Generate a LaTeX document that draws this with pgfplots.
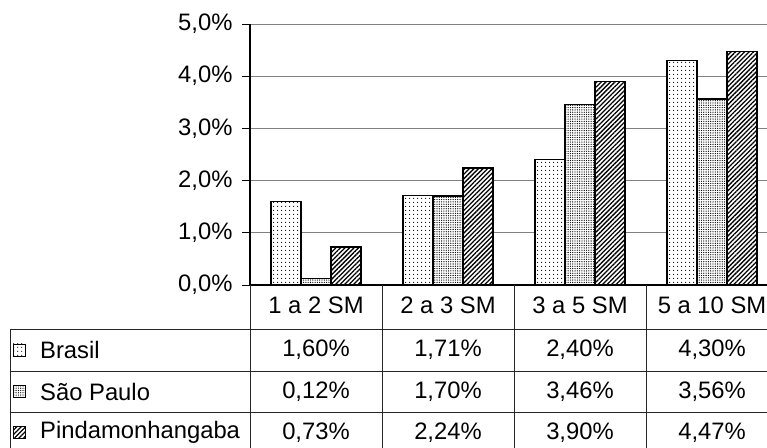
\documentclass[border=0pt]{standalone}
\usepackage{fontspec}
\setmainfont{Liberation Sans}
\usepackage{pgfplots}
\pgfplotsset{compat=1.18}
\usetikzlibrary{patterns.meta}

% fill styles of the three series
\tikzset{
  brasil/.style={preaction={fill=white}, pattern={Dots[distance=3.6bp, radius=0.65bp]}},
  saopaulo/.style={preaction={fill=white}, pattern={Dots[distance=2.3bp, radius=0.65bp]}},
  pinda/.style={preaction={fill=white}, pattern={Lines[angle=45, distance=3.2bp, line width=1.3bp]}},
}

\newcommand\chartfont{\fontsize{23.8bp}{28bp}\selectfont}

\begin{document}
\begin{tikzpicture}[font=\chartfont, x=1bp, y=1bp]
\begin{axis}[
  at={(250bp,163bp)}, anchor=south west,
  scale only axis, width=517bp, height=261bp,
  xmin=-0.5, xmax=3.417, ymin=0, ymax=5,
  ybar=0pt, bar width=0.2273,
  axis lines*=left,
  axis line style={black, line width=1.2bp},
  xtick=\empty,
  ytick={0,1,2,3,4,5},
  tick align=outside, major tick length=8bp,
  tick style={black, line width=0.9bp},
  ymajorgrids,
  grid style={gray, line width=0.9bp},
  yticklabel={\pgfmathprintnumber{\tick}\%},
  yticklabel style={font=\chartfont, xshift=-6bp, /pgf/number format/.cd, fixed, fixed zerofill, precision=1, use comma, assume math mode=true},
  every axis plot/.append style={draw=black, line width=1.5bp},
  clip=false,
]
\addplot[brasil]   coordinates {(0,1.60) (1,1.71) (2,2.40) (3,4.30)};
\addplot[saopaulo] coordinates {(0,0.12) (1,1.70) (2,3.46) (3,3.56)};
\addplot[pinda]    coordinates {(0,0.73) (1,2.24) (2,3.90) (3,4.47)};
\end{axis}

% data table below the plot
\begin{scope}[line width=0.9bp, draw=black!85]
  \foreach \x in {250,382,514,646} \draw (\x,163) -- (\x,-10);
  \draw (10,-10) -- (10,119);
  \foreach \y in {119,77,36} \draw (10,\y) -- (780,\y);
\end{scope}

\foreach \x/\t in {316/1 a 2 SM, 448/2 a 3 SM, 580/3 a 5 SM, 712/5 a 10 SM}
  \node at (\x,143) {\t};

% series rows: key, name, values
\foreach \y/\s/\n/\a/\b/\c/\d in {
    98/brasil/Brasil/{1,60}/{1,71}/{2,40}/{4,30},
    56.5/saopaulo/São Paulo/{0,12}/{1,70}/{3,46}/{3,56},
    15.5/pinda/Pindamonhangaba/{0,73}/{2,24}/{3,90}/{4,47}}{
  \draw[\s, draw=black, line width=0.9bp] (13,\y-6) rectangle (25,\y+6);
  \node[anchor=west, inner sep=0pt] at (40,\y) {\n};
  \node at (316,\y) {\a\%};
  \node at (448,\y) {\b\%};
  \node at (580,\y) {\c\%};
  \node at (712,\y) {\d\%};
}

\pgfresetboundingbox
\useasboundingbox (0,0) rectangle (767,448);
\end{tikzpicture}
\end{document}
